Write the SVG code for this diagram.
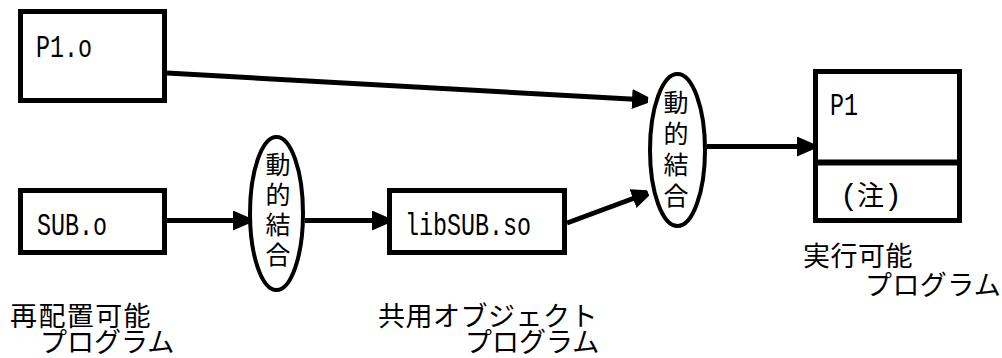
<svg xmlns="http://www.w3.org/2000/svg" width="1002" height="358" viewBox="0 0 1002 358">
<style>
.box{fill:#fff;stroke:#000;stroke-width:5}
.ell{fill:#fff;stroke:#000;stroke-width:4}
.con{fill:none;stroke:#000;stroke-width:5}
.lat{font-family:"Liberation Mono","DejaVu Sans Mono",monospace;font-size:32px;fill:#000}
.jp{font-family:"Noto Sans CJK JP","Noto Sans CJK SC",sans-serif;font-size:27px;fill:#000}
.ej{font-family:"Noto Sans CJK JP","Noto Sans CJK SC",sans-serif;font-size:25px;fill:#000;text-anchor:middle}
</style>
<defs>
<marker id="arr" markerUnits="userSpaceOnUse" markerWidth="17" markerHeight="22" refX="16" refY="10" orient="auto" viewBox="0 0 17 22">
<path d="M0,0 L16,7 L16,13 L0,20 z" fill="#000"/>
</marker>
</defs>
<rect width="1002" height="358" fill="#fff"/>
<g id="connectors">
<line class="con" x1="167" y1="73" x2="648" y2="100" marker-end="url(#arr)"/>
<line class="con" x1="167" y1="220.5" x2="249" y2="220.5" marker-end="url(#arr)"/>
<line class="con" x1="305" y1="220.5" x2="388" y2="220.5" marker-end="url(#arr)"/>
<line class="con" x1="567" y1="223" x2="648" y2="193" marker-end="url(#arr)"/>
<line class="con" x1="707" y1="146.5" x2="813" y2="146.5" marker-end="url(#arr)"/>
</g>
<g id="p1o">
<rect class="box" x="20.5" y="11.5" width="144" height="89"/>
<text class="lat" x="36" y="57" textLength="56" lengthAdjust="spacingAndGlyphs">P1.o</text>
</g>
<g id="subo">
<rect class="box" x="20.5" y="190.5" width="144" height="62"/>
<text class="lat" x="37" y="235" textLength="70" lengthAdjust="spacingAndGlyphs">SUB.o</text>
</g>
<g id="link1">
<ellipse class="ell" cx="276.5" cy="213.5" rx="26.5" ry="76.5"/>
<text class="ej" x="278" y="174">動</text>
<text class="ej" x="278" y="204">的</text>
<text class="ej" x="278" y="234">結</text>
<text class="ej" x="278" y="264">合</text>
</g>
<g id="libsub">
<rect class="box" x="389.5" y="190.5" width="175" height="62"/>
<text class="lat" x="405" y="235" textLength="126" lengthAdjust="spacingAndGlyphs">libSUB.so</text>
</g>
<g id="link2">
<ellipse class="ell" cx="677.5" cy="150" rx="27.5" ry="76"/>
<text class="ej" x="676" y="112">動</text>
<text class="ej" x="676" y="143">的</text>
<text class="ej" x="676" y="174">結</text>
<text class="ej" x="676" y="205">合</text>
</g>
<g id="p1">
<rect class="box" x="815.5" y="71.5" width="144" height="149"/>
<line x1="815.5" y1="162.5" x2="959.5" y2="162.5" stroke="#000" stroke-width="6"/>
<text class="lat" x="830" y="115" textLength="28" lengthAdjust="spacingAndGlyphs">P1</text>
<text class="jp" y="205"><tspan x="840" font-family="Liberation Mono, monospace" font-size="30">(</tspan><tspan x="857">注</tspan><tspan x="884" font-family="Liberation Mono, monospace" font-size="30">)</tspan></text>
</g>
<g id="labels">
<text class="jp" x="10" y="326" letter-spacing="1.4">再配置可能</text>
<text class="jp" x="40" y="352">プログラム</text>
<text class="jp" x="378" y="326" letter-spacing="0.5">共用オブジェクト</text>
<text class="jp" x="465" y="352">プログラム</text>
<text class="jp" x="803" y="266" letter-spacing="0.5">実行可能</text>
<text class="jp" x="865" y="295" font-size="26" letter-spacing="0.4">プログラム</text>
</g>
</svg>
